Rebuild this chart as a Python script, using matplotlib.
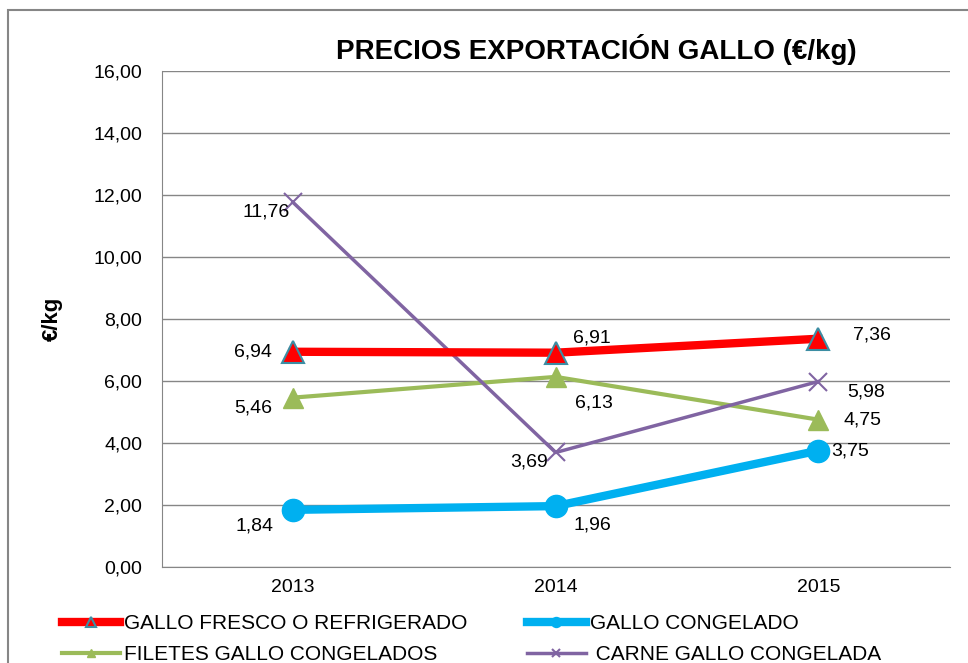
import matplotlib
matplotlib.use("Agg")
import matplotlib.pyplot as plt
from matplotlib.patches import Rectangle

plt.rcParams['font.family'] = ['Liberation Sans', 'DejaVu Sans']

years = ['2013', '2014', '2015']
fresco = [6.94, 6.91, 7.36]
congelado = [1.84, 1.96, 3.75]
filetes = [5.46, 6.13, 4.75]
carne = [11.76, 3.69, 5.98]
yticks = [0, 2, 4, 6, 8, 10, 12, 14, 16]

fig = plt.figure(figsize=(9.68, 6.63), dpi=100)
ax = fig.add_axes([0.167, 0.145, 0.814, 0.748])

x = list(range(len(years)))
h1, = ax.plot(x, fresco, color='#FF0000', lw=6, marker='^', ms=16, mfc='#FF0000',
              mec='#3C8DA3', mew=1.5, label='GALLO FRESCO O REFRIGERADO', zorder=5)
h2, = ax.plot(x, congelado, color='#00B0F0', lw=6, marker='o', ms=16, mfc='#00B0F0',
              mec='#00B0F0', label='GALLO CONGELADO', zorder=4)
h3, = ax.plot(x, filetes, color='#9BBB59', lw=3, marker='^', ms=14, mfc='#9BBB59',
              mec='#9BBB59', label='FILETES GALLO CONGELADOS', zorder=3)
h4, = ax.plot(x, carne, color='#8064A2', lw=2.5, marker='x', ms=13, mew=1.5,
              mec='#8064A2', label=' CARNE GALLO CONGELADA', zorder=3)

def fmt(v):
    return f"{v:.2f}".replace('.', ',')

fs = 14
# offsets in pixels (dx right, dy down)
offs_px = {
    'fresco': [(-40, 0), (36, -15), (54, -4)],
    'congelado': [(-38, 16), (37, 19), (32, 0)],
    'filetes': [(-40, 10), (38, 26), (44, 0)],
    'carne': [(-27, 10), (-27, 10), (48, 10)],
}
for key, vals in [('fresco', fresco), ('congelado', congelado),
                  ('filetes', filetes), ('carne', carne)]:
    for i, v in enumerate(vals):
        dx, dy = offs_px[key][i]
        ax.annotate(fmt(v), (i, v), xytext=(dx * 0.72, -dy * 0.72),
                    textcoords='offset points', ha='center', va='center',
                    fontsize=fs, color='#000000', zorder=6)

ax.set_xlim(-0.5, 2.5)
ax.set_ylim(0, 16)
ax.set_yticks(yticks)
ax.set_yticklabels([fmt(t) for t in yticks], fontsize=14)
ax.set_xticks(x)
ax.set_xticklabels(years, fontsize=14)
ax.tick_params(axis='y', length=0, pad=14)
ax.tick_params(axis='x', length=0, pad=9)
ax.grid(axis='y', color='#868686', lw=1)
ax.set_axisbelow(True)
for s in ['top', 'right']:
    ax.spines[s].set_visible(False)
ax.spines['left'].set_color('#868686')
ax.spines['bottom'].set_color('#868686')
ax.set_ylabel('€/kg', fontsize=16, fontweight='bold', labelpad=22)

fig.text(0.616, 0.925, 'PRECIOS EXPORTACIÓN GALLO (€/kg)', ha='center', va='center',
         fontsize=20, fontweight='bold')

# columns filled row-wise: col1 = fresco, filetes; col2 = congelado, carne
leg = fig.legend([h1, h3, h2, h4],
                 [h1.get_label(), h3.get_label(), h2.get_label(), h4.get_label()],
                 loc='upper left', bbox_to_anchor=(0.064, 0.074), ncol=2, frameon=False,
                 fontsize=15, handlelength=2.8, columnspacing=2.85, handletextpad=0.2,
                 labelspacing=0.6, markerscale=0.45, borderaxespad=0, borderpad=0)

fig.patches.append(Rectangle((8/968, -0.1), 2, (1 - 10/663) + 0.1,
                             transform=fig.transFigure, fill=False,
                             edgecolor='#868686', lw=1.5))

fig.savefig('out.png', dpi=100)
